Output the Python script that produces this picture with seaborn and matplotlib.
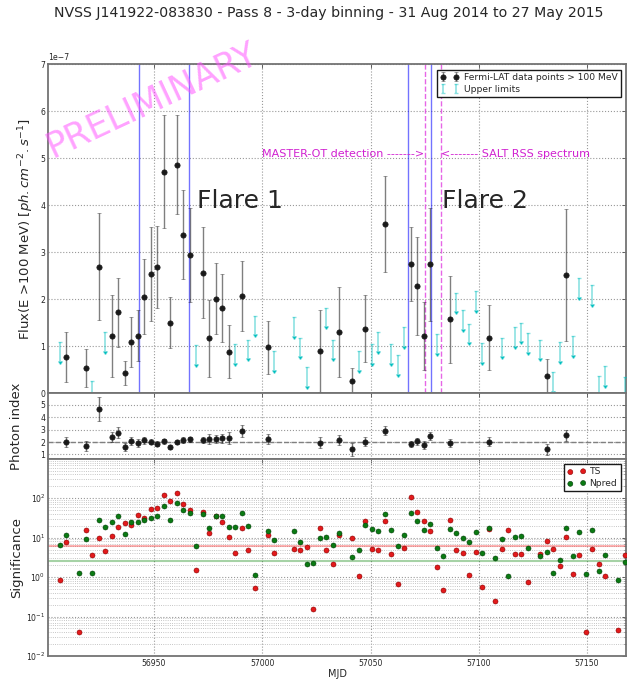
import matplotlib
matplotlib.use("Agg")
import matplotlib.pyplot as plt
import numpy as np
import pandas as pd
import seaborn as sns

# ---- Fermi-LAT light curve, 3-day bins (flux in units of 1e-7 ph cm^-2 s^-1) ----
det_mjd = [56909.5, 56918.5, 56924.5, 56930.5, 56933.5, 56936.5, 56939.5, 56942.5,
           56945.5, 56948.5, 56951.5, 56954.5, 56957.5, 56960.5, 56963.5, 56966.5,
           56972.5, 56975.5, 56978.5, 56981.5, 56984.5, 56990.5, 57002.5, 57026.5,
           57035.5, 57041.5, 57047.5, 57056.5, 57068.5, 57071.5, 57074.5, 57077.5,
           57086.5, 57104.5, 57131.5, 57140.5]
det_flux = [0.76, 0.53, 2.69, 1.21, 1.72, 0.43, 1.09, 1.22,
            2.05, 2.54, 2.68, 4.71, 1.50, 4.86, 3.37, 2.93,
            2.56, 1.17, 2.01, 1.81, 0.88, 2.07, 0.97, 0.89,
            1.30, 0.26, 1.37, 3.60, 2.75, 2.28, 1.21, 2.74,
            1.57, 1.18, 0.36, 2.51]
det_flux_err = [0.53, 0.40, 1.14, 0.87, 0.73, 0.25, 0.53, 0.54,
                0.80, 1.00, 0.87, 1.20, 0.54, 1.05, 0.95, 1.00,
                0.97, 0.82, 0.75, 0.73, 0.57, 0.74, 0.57, 0.87,
                0.95, 0.27, 0.71, 1.02, 0.78, 1.04, 0.72, 1.20,
                0.92, 0.69, 0.36, 1.40]
det_index = [2.03, 1.68, 4.65, 2.43, 2.76, 1.62, 2.08, 1.92,
             2.14, 2.03, 1.86, 2.05, 1.60, 2.00, 2.14, 2.22,
             2.16, 2.27, 2.22, 2.30, 2.35, 2.89, 2.27, 1.95,
             2.16, 1.41, 2.03, 2.92, 1.81, 2.05, 1.76, 2.49,
             1.92, 2.03, 1.43, 2.54]
det_index_err = [0.40, 0.38, 0.97, 0.40, 0.43, 0.32, 0.35, 0.31,
                 0.28, 0.20, 0.20, 0.20, 0.20, 0.15, 0.23, 0.22,
                 0.27, 0.40, 0.32, 0.36, 0.49, 0.49, 0.40, 0.47,
                 0.43, 0.51, 0.35, 0.38, 0.25, 0.30, 0.30, 0.35,
                 0.32, 0.38, 0.45, 0.46]

ul_mjd = [56906.5, 56921.5, 56927.5, 56969.5, 56987.5, 56993.5, 56996.5, 57005.5,
          57014.5, 57017.5, 57020.5, 57029.5, 57032.5, 57044.5, 57050.5, 57053.5,
          57059.5, 57062.5, 57065.5, 57080.5, 57089.5, 57092.5, 57095.5, 57098.5,
          57101.5, 57110.5, 57116.5, 57119.5, 57122.5, 57128.5, 57134.5, 57137.5,
          57143.5, 57146.5, 57152.5, 57155.5, 57158.5, 57167.5]
ul_flux = [1.09, 0.26, 1.29, 1.02, 1.05, 1.14, 1.65, 0.89,
           1.62, 1.18, 0.56, 1.82, 1.14, 0.90, 1.05, 1.29,
           1.05, 0.80, 1.40, 1.25, 2.14, 1.76, 1.48, 2.17,
           1.06, 1.18, 1.40, 1.50, 1.27, 1.14, 0.45, 1.08,
           1.21, 2.44, 2.29, 0.36, 0.57, 0.34]

# ---- Significance per bin ----
sig_mjd = [56906.5, 56909.5, 56915.5, 56918.5, 56921.5, 56924.5, 56927.5, 56930.5,
           56933.5, 56936.5, 56939.5, 56942.5, 56945.5, 56948.5, 56951.5, 56954.5,
           56957.5, 56960.5, 56963.5, 56966.5, 56969.5, 56972.5, 56975.5, 56978.5,
           56981.5, 56984.5, 56987.5, 56990.5, 56993.5, 56996.5, 57002.5, 57005.5,
           57014.5, 57017.5, 57020.5, 57023.5, 57026.5, 57029.5, 57032.5, 57035.5,
           57041.5, 57044.5, 57047.5, 57050.5, 57053.5, 57056.5, 57059.5, 57062.5,
           57065.5, 57068.5, 57071.5, 57074.5, 57077.5, 57080.5, 57083.5, 57086.5,
           57089.5, 57092.5, 57095.5, 57098.5, 57101.5, 57104.5, 57107.5, 57110.5,
           57113.5, 57116.5, 57119.5, 57122.5, 57128.5, 57131.5, 57134.5, 57137.5,
           57140.5, 57143.5, 57146.5, 57149.5, 57152.5, 57155.5, 57158.5, 57164.5,
           57167.5]
sig_ts = [0.84, 7.7, 0.041, 15.7, 3.7, 9.7, 4.6, 11.3,
          18.4, 24.0, 21.4, 36.7, 30.9, 54.0, 57.0, 121.0,
          86.0, 134.0, 73.5, 51.0, 1.5, 44.5, 13.2, 35.3,
          25.5, 10.7, 4.2, 17.3, 5.0, 0.52, 11.6, 4.1,
          5.3, 5.0, 5.8, 0.16, 17.3, 5.0, 2.1, 12.0,
          9.7, 1.08, 26.0, 5.2, 4.8, 27.0, 3.9, 0.68,
          5.6, 110.0, 45.0, 26.0, 14.6, 1.78, 0.46, 28.6,
          5.0, 4.2, 1.12, 4.4, 0.57, 17.0, 0.25, 5.3,
          16.0, 3.8, 3.9, 0.76, 3.8, 8.2, 5.2, 1.93,
          10.5, 1.17, 3.7, 0.040, 5.2, 2.1, 1.06, 0.045,
          3.7]
sig_npred = [6.5, 11.6, 1.24, 9.2, 1.24, 27.5, 18.4, 24.5,
             36.0, 12.2, 24.5, 25.5, 27.5, 32.0, 35.3, 63.0,
             28.6, 75.0, 51.0, 42.8, 6.2, 39.6, 17.7, 34.6,
             36.0, 19.0, 19.0, 42.0, 19.8, 1.12, 15.1, 8.8,
             14.6, 7.6, 2.16, 2.3, 10.0, 10.7, 6.4, 13.0,
             3.3, 4.8, 21.4, 16.3, 14.6, 39.6, 15.4, 6.1,
             11.8, 42.0, 27.0, 15.4, 22.2, 5.6, 3.4, 16.7,
             13.2, 10.1, 7.9, 14.3, 4.0, 17.3, 3.0, 9.5,
             1.06, 10.7, 11.3, 5.6, 3.5, 4.3, 1.24, 2.7,
             17.7, 3.4, 14.3, 1.17, 15.8, 1.42, 3.7, 0.86,
             2.4]

flare_edges = [56943.2, 56966.3, 57067.2, 57078.1]
master_ot_mjd = 57075.2
salt_mjd = 57082.4
ts_level = 6.1
npred_level = 2.57
ul_arrow = 0.40

sns.set_theme(style="white")
plt.rcParams["font.family"] = ["DejaVu Sans"]
plt.rcParams["mathtext.fontset"] = "dejavusans"

fig = plt.figure(figsize=(6.39, 6.82), dpi=100)
gs = fig.add_gridspec(3, 1, height_ratios=[5, 1, 3], hspace=0,
                      left=0.0756, right=0.9797, top=0.9057, bottom=0.0381)
ax1 = fig.add_subplot(gs[0])
ax2 = fig.add_subplot(gs[1], sharex=ax1)
ax3 = fig.add_subplot(gs[2], sharex=ax1)

tick_fs = 5.6
grid_kw = dict(color="0.6", linestyle=":", linewidth=0.8)

for ax in (ax1, ax2, ax3):
    for sp in ax.spines.values():
        sp.set_color("0.45")
        sp.set_linewidth(1.3)
    ax.tick_params(direction="in", top=True, right=True, labelsize=tick_fs,
                   length=3, width=0.6, color="0.3", pad=2)
    ax.grid(True, **grid_kw)
    ax.set_axisbelow(True)

scale = 1e-7
det_flux_v = np.array(det_flux) * scale
det_err_v = np.array(det_flux_err) * scale
ul_v = np.array(ul_flux) * scale

# --- flux panel ---
ax1.errorbar(det_mjd, det_flux_v, yerr=det_err_v, fmt="o", color="k", ms=3.8,
             mew=0.5, ecolor=(0, 0, 0, 0.5), elinewidth=1, capsize=1.3, capthick=1,
             label="Fermi-LAT data points > 100 MeV", zorder=4)
ul = ax1.errorbar(ul_mjd, ul_v, yerr=ul_arrow * scale, uplims=True, fmt="none",
                  ecolor=(0, 0.75, 0.75, 0.45), elinewidth=1.2, capsize=1.6,
                  label="Upper limits", zorder=3)
for cl in ul.lines[1]:
    cl.set_color((0, 0.75, 0.75, 1))

for x in flare_edges:
    ax1.axvline(x, color="blue", alpha=0.55, lw=1, zorder=2)
for x in (master_ot_mjd, salt_mjd):
    ax1.axvline(x, color="#e040e0", ls="--", alpha=0.8, lw=1, zorder=2)

ax1.text(master_ot_mjd - 0.3, 5.08e-7, "MASTER-OT detection ------->",
         color="#d020d0", fontsize=8, ha="right", va="center")
ax1.text(salt_mjd + 0.3, 5.08e-7, "<------- SALT RSS spectrum",
         color="#d020d0", fontsize=8, ha="left", va="center")
ax1.text(56970.0, 3.93e-7, "Flare 1", fontsize=18, ha="left", va="baseline")
ax1.text(57083.0, 3.93e-7, "Flare 2", fontsize=18, ha="left", va="baseline")

ax1.set_ylim(0, 7e-7)
ax1.set_xlim(56901.2, 57168.0)
ax1.yaxis.get_offset_text().set_fontsize(tick_fs)
ax1.set_ylabel(r"Flux(E >100 MeV) $[ph.cm^{-2}.s^{-1}]$", fontsize=9.5)
leg1 = ax1.legend(loc="upper right", fontsize=6.6, numpoints=2, fancybox=False,
                  edgecolor="k", framealpha=1, borderaxespad=0.6,
                  handletextpad=0.5, labelspacing=0.3, borderpad=0.35)
leg1.get_frame().set_linewidth(1.0)
plt.setp(ax1.get_xticklabels(), visible=False)

# --- photon index panel ---
ax2.errorbar(det_mjd, det_index, yerr=det_index_err, fmt="o", color="k", ms=3.8,
             mew=0.5, ecolor=(0, 0, 0, 0.55), elinewidth=1, capsize=1.3, capthick=1,
             zorder=4)
ax2.axhline(2.0, color="0.5", ls="--", lw=1, zorder=2)
ax2.set_ylim(0.65, 5.95)
ax2.set_yticks([1, 2, 3, 4, 5])
ax2.set_ylabel("Photon index", fontsize=9.5)
plt.setp(ax2.get_xticklabels(), visible=False)

# --- significance panel ---
sig = pd.DataFrame({"MJD": sig_mjd, "TS": sig_ts, "Npred": sig_npred})
ax3.axhline(ts_level, color="red", alpha=0.3, lw=1.5, zorder=1)
ax3.axhline(npred_level, color="green", alpha=0.35, lw=1.5, zorder=1)
sns.scatterplot(data=sig, x="MJD", y="TS", color="#e31a1c", edgecolor="#8b0000",
                linewidth=0.4, s=13, label="TS", ax=ax3, zorder=3)
sns.scatterplot(data=sig, x="MJD", y="Npred", color="#0a7a12", edgecolor="#033d08",
                linewidth=0.4, s=13, label="Npred", ax=ax3, zorder=3)
ax3.set_yscale("log")
ax3.set_ylim(1e-2, 1e3)
ax3.set_yticks([1e-2, 1e-1, 1e0, 1e1, 1e2])
ax3.grid(True, which="minor", axis="y", color="0.7", linestyle=":", linewidth=0.6)
ax3.tick_params(which="minor", direction="in", right=True, length=1.5, width=0.5)
ax3.set_xticks([56950, 57000, 57050, 57100, 57150])
ax3.set_xlim(56901.2, 57168.0)
ax3.set_ylabel("Significance", fontsize=9.5)
ax3.set_xlabel("MJD", fontsize=7, labelpad=1)
leg3 = ax3.legend(loc="upper right", fontsize=6.6, scatterpoints=2, fancybox=False,
                  edgecolor="k", framealpha=1, borderaxespad=0.6,
                  handletextpad=0.4, labelspacing=0.3, borderpad=0.35)
leg3.get_frame().set_linewidth(1.0)

ax1.yaxis.set_label_coords(-0.021, 0.5)
ax2.yaxis.set_label_coords(-0.043, 0.5)
ax3.yaxis.set_label_coords(-0.043, 0.5)

fig.text(0.514, 1 - 12.5 / 682, "NVSS J141922-083830 - Pass 8 - 3-day binning - "
         "31 Aug 2014 to 27 May 2015", ha="center", va="center", fontsize=10.2)
fig.text(0.239, 0.853, "PRELIMINARY", rotation=25, fontsize=25, color="#ff55ff",
         alpha=0.55, ha="center", va="center")

fig.savefig("out.png", dpi=100)
